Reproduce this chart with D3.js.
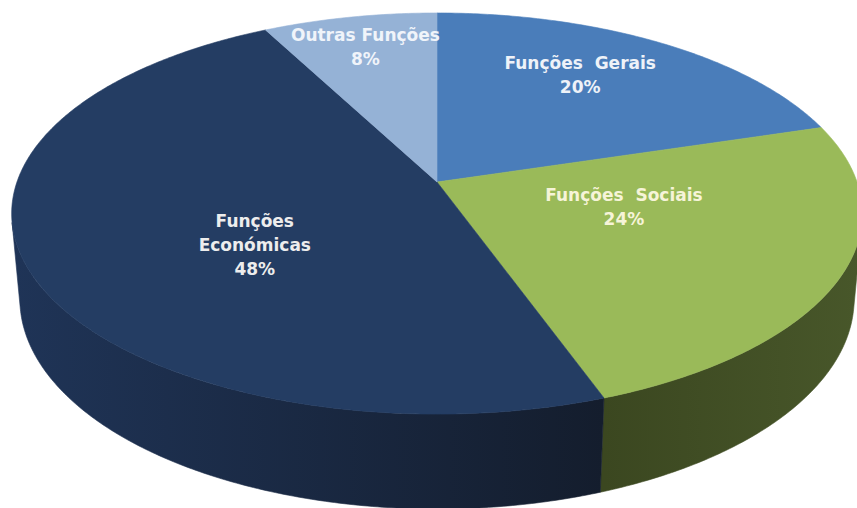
<!DOCTYPE html>
<html>
<head>
<meta charset="utf-8">
<script src="https://cdn.jsdelivr.net/npm/d3@7"></script>
<style>
  body { margin: 0; background: #fff; }
  text { font-family: "DejaVu Sans", Verdana, sans-serif; font-weight: bold; white-space: pre; }
</style>
</head>
<body>
<svg id="chart" width="857" height="508"></svg>
<script>
// data (labels are rounded shares)
var categories = ["Funções Gerais", "Funções Sociais", "Funções Económicas", "Outras Funções"];
var shares = [20.3, 24.2, 47.8, 7.7];
var labelLines = [["Funções  Gerais"], ["Funções  Sociais"], ["Funções", "Económicas"], ["Outras Funções"]];

// look
var topColors = ["#4a7dba", "#9aba59", "#243d63", "#95b2d6"];
var sideColors = [["#3b6296", "#2f5080"], ["#48572a", "#3b4720"], ["#141d2d", "#1f3457"], ["#7890ae", "#6a7f9a"]];
var textColors = ["#eef2f8", "#f6f4d8", "#ededed", "#f0f4fa"];
// label spot on the disc: radius fraction and turn from slice middle (deg)
var labelR = [0.705, 0.454, 0.514, 0.798];
var labelTurn = [-4.6, -10.6, -12.8, 0];

(function () {
    var svg = d3.select("#chart");
    var defs = svg.append("defs");

    // perspective camera looking down on a unit disc
    var cam = { cx: 437, cy: 182, f: 2364, D: 5.628, tilt: Math.asin(0.4657) };
    var thick = 0.232;
    var s = Math.sin(cam.tilt), c = Math.cos(cam.tilt);

    function proj(X, Y, Z) {
        var v = Z * s + Y * c;
        var w = Z * c - Y * s;
        return [cam.cx + cam.f * X / (cam.D + w), cam.cy - cam.f * v / (cam.D + w)];
    }
    function rim(a, Y, r) {
        r = r === undefined ? 1 : r;
        return proj(r * Math.sin(a), Y, r * Math.cos(a));
    }
    function arcPts(a0, a1, Y) {
        var n = Math.max(2, Math.ceil((a1 - a0) / 0.01));
        return d3.range(n + 1).map(function (i) { return rim(a0 + (a1 - a0) * i / n, Y); });
    }

    var pie = d3.pie().sort(null).value(function (d) { return d; });
    var arcs = pie(shares);

    // wall faces camera where cos(a) < -1/(D*cos(tilt))
    var lim = Math.acos(-1 / (cam.D * c));
    var visA = lim, visB = 2 * Math.PI - lim;

    var line = d3.line();

    var walls = svg.append("g");
    arcs.forEach(function (d, i) {
        var a0 = Math.max(d.startAngle, visA), a1 = Math.min(d.endAngle, visB);
        if (a1 <= a0) return;
        var topE = arcPts(a0, a1, 0);
        var botE = arcPts(a0, a1, -thick).reverse();
        var xs = topE.map(function (p) { return p[0]; });
        var g = defs.append("linearGradient")
            .attr("id", "side" + i)
            .attr("gradientUnits", "userSpaceOnUse")
            .attr("x1", xs[0]).attr("x2", xs[xs.length - 1])
            .attr("y1", 0).attr("y2", 0);
        g.append("stop").attr("offset", 0).attr("stop-color", sideColors[i][0]);
        g.append("stop").attr("offset", 1).attr("stop-color", sideColors[i][1]);
        walls.append("path")
            .attr("d", line(topE.concat(botE)) + "Z")
            .attr("fill", "url(#side" + i + ")")
            .attr("stroke", "url(#side" + i + ")")
            .attr("stroke-width", 0.6);
    });

    var tops = svg.append("g");
    arcs.forEach(function (d, i) {
        var pts = [proj(0, 0, 0)].concat(arcPts(d.startAngle, d.endAngle, 0));
        tops.append("path")
            .attr("d", line(pts) + "Z")
            .attr("fill", topColors[i])
            .attr("stroke", topColors[i])
            .attr("stroke-width", 0.6)
            .attr("stroke-linejoin", "round");
    });

    var lineH = 24;
    var labels = svg.append("g");
    arcs.forEach(function (d, i) {
        var mid = (d.startAngle + d.endAngle) / 2 + labelTurn[i] * Math.PI / 180;
        var p = rim(mid, 0, labelR[i]);
        var rows = labelLines[i].concat([Math.round(d.value) + "%"]);
        var t = labels.append("text")
            .attr("text-anchor", "middle")
            .attr("font-size", 17)
            .attr("fill", textColors[i]);
        rows.forEach(function (r, k) {
            t.append("tspan")
                .attr("x", p[0])
                .attr("y", p[1] + (k - (rows.length - 1) / 2) * lineH)
                .attr("dy", "0.36em")
                .text(r);
        });
    });
})();
</script>
</body>
</html>
